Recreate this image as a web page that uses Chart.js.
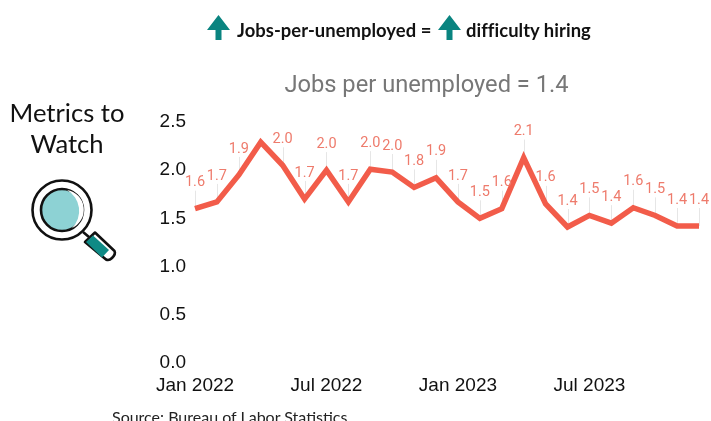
<!DOCTYPE html>
<html>
<head>
<meta charset="utf-8">
<title>Jobs per unemployed</title>
<script src="https://cdn.jsdelivr.net/npm/chart.js@4"></script>
<style>
  html, body { margin: 0; padding: 0; background: #fff; }
  #page { position: relative; width: 711px; height: 421px; overflow: hidden; }
  #page canvas { position: absolute; left: 0; top: 0; }
  .note { position: absolute; white-space: nowrap; font-family: Lato, sans-serif; color: #111; }
  .key { top: 19px; font-size: 18.4px; font-weight: 700; letter-spacing: 0.05px; }
  .arrow { position: absolute; top: 15px; }
  #watch { left: 2px; top: 97px; width: 130px; text-align: center; font-size: 25.6px; line-height: 31px; }
  #source { left: 112px; top: 407px; font-size: 16px; color: #222; }
  #magnifier { position: absolute; left: 25px; top: 174px; }
</style>
</head>
<body>
<div id="page">
  <canvas id="jobs-chart" width="711" height="421"></canvas>

  <svg class="arrow" style="left:207px" width="23" height="25" viewBox="0 0 23 25">
    <path d="M11.5 0 L23 15 H14.5 V25 H8.5 V15 H0 Z" fill="#0a8480"/>
  </svg>
  <div class="note key" style="left:237px">Jobs-per-unemployed =</div>
  <svg class="arrow" style="left:438px" width="23" height="25" viewBox="0 0 23 25">
    <path d="M11.5 0 L23 15 H14.5 V25 H8.5 V15 H0 Z" fill="#0a8480"/>
  </svg>
  <div class="note key" style="left:466px">difficulty hiring</div>

  <div class="note" id="watch">Metrics to<br>Watch</div>

  <svg id="magnifier" width="95" height="90" viewBox="0 0 95 90">
    <circle cx="37" cy="36" r="29.5" fill="#fff" stroke="#111" stroke-width="2.6"/>
    <circle cx="37" cy="36" r="21" fill="#8dd2d4" stroke="#111" stroke-width="2.6"/>
    <path d="M42 16 A20 20 0 0 1 47 54 A24 24 0 0 0 42 16 Z" fill="#fff"/>
    <path d="M58 58 L64 63" stroke="#111" stroke-width="2.6"/>
    <path d="M60 68 L70 58.5 L89.5 77 Q91 80 87 84 Q84 87 81 85.5 Z" fill="#fff" stroke="#111" stroke-width="2.6" stroke-linejoin="round"/>
    <path d="M61 68 L68 61.5 L84 76 L77 83.5 Z" fill="#0f8a85"/>
  </svg>

  <div class="note" id="source">Source: Bureau of Labor Statistics</div>
</div>

<script>
'use strict';

/* DATA */
const months = [
  'Jan 2022', 'Feb 2022', 'Mar 2022', 'Apr 2022', 'May 2022', 'Jun 2022',
  'Jul 2022', 'Aug 2022', 'Sep 2022', 'Oct 2022', 'Nov 2022', 'Dec 2022',
  'Jan 2023', 'Feb 2023', 'Mar 2023', 'Apr 2023', 'May 2023', 'Jun 2023',
  'Jul 2023', 'Aug 2023', 'Sep 2023', 'Oct 2023', 'Nov 2023', 'Dec 2023',
];
const jobsPerUnemployed = [
  1.59, 1.66, 1.94, 2.28, 2.04, 1.69,
  1.99, 1.66, 2.0, 1.97, 1.81, 1.91,
  1.66, 1.49, 1.59, 2.12, 1.64, 1.4,
  1.52, 1.44, 1.6, 1.52, 1.41, 1.41,
];
// April 2022 runs without a label
const unlabeledMonths = ['Apr 2022'];
const yTicks = [0, 0.5, 1, 1.5, 2, 2.5];
const labelEveryMonths = 6;

const LINE_COLOR = '#f25c4a';
const LABEL_COLOR = '#ee7b6c';
const LABEL_LIFT = 26;

/* value labels with a thin leader dropping to the point */
const valueLabels = {
  id: 'valueLabels',
  beforeDatasetsDraw(chart) {
    const { ctx } = chart;
    ctx.save();
    ctx.strokeStyle = '#e6e6e6';
    ctx.lineWidth = 1;
    chart.getDatasetMeta(0).data.forEach((pt, i) => {
      if (unlabeledMonths.includes(months[i])) return;
      ctx.beginPath();
      ctx.moveTo(Math.round(pt.x) + 0.5, pt.y - LABEL_LIFT + 8);
      ctx.lineTo(Math.round(pt.x) + 0.5, pt.y);
      ctx.stroke();
    });
    ctx.restore();
  },
  afterDatasetsDraw(chart) {
    const { ctx } = chart;
    ctx.save();
    ctx.fillStyle = LABEL_COLOR;
    ctx.font = '14.5px Roboto';
    ctx.textAlign = 'center';
    ctx.textBaseline = 'middle';
    chart.getDatasetMeta(0).data.forEach((pt, i) => {
      if (unlabeledMonths.includes(months[i])) return;
      ctx.fillText(jobsPerUnemployed[i].toFixed(1), pt.x, pt.y - LABEL_LIFT);
    });
    ctx.restore();
  },
};

function renderChart() {
  const canvasElem = document.getElementById('jobs-chart').getContext('2d');
  new Chart(canvasElem, {
    type: 'line',
    data: {
      labels: months,
      datasets: [
        {
          data: jobsPerUnemployed,
          borderColor: LINE_COLOR,
          borderWidth: 5.5,
          borderJoinStyle: 'miter',
          borderCapStyle: 'butt',
          pointRadius: 0,
          tension: 0,
          clip: false,
        },
      ],
    },
    options: {
      responsive: false,
      animation: false,
      layout: {
        padding: { left: 154, right: 12, top: 72, bottom: 0 },
      },
      plugins: {
        legend: { display: false },
        tooltip: { enabled: false },
        title: {
          display: true,
          text: 'Jobs per unemployed = 1.4',
          color: '#777777',
          font: { family: 'Roboto', size: 23.7, weight: 'normal' },
          padding: { top: 0, bottom: 20.5 },
        },
      },
      scales: {
        x: {
          afterFit(axis) {
            axis.height = 59;
          },
          grid: { display: false, drawTicks: false },
          border: { display: false },
          ticks: {
            autoSkip: false,
            maxRotation: 0,
            padding: 12,
            color: '#111111',
            font: { family: 'Liberation Sans', size: 19 },
            callback(value, i) {
              return i % labelEveryMonths === 0 ? months[i] : '';
            },
          },
        },
        y: {
          min: 0,
          max: 2.5,
          afterFit(axis) {
            axis.width = 41;
          },
          afterBuildTicks(axis) {
            axis.ticks = yTicks.map((value) => ({ value }));
          },
          grid: { display: false, drawTicks: false },
          border: { display: false },
          ticks: {
            padding: 9,
            labelOffset: 1,
            color: '#111111',
            font: { family: 'Liberation Sans', size: 19 },
            callback: (value) => value.toFixed(1),
          },
        },
      },
    },
    plugins: [valueLabels],
  });
}
renderChart();
</script>
</body>
</html>
